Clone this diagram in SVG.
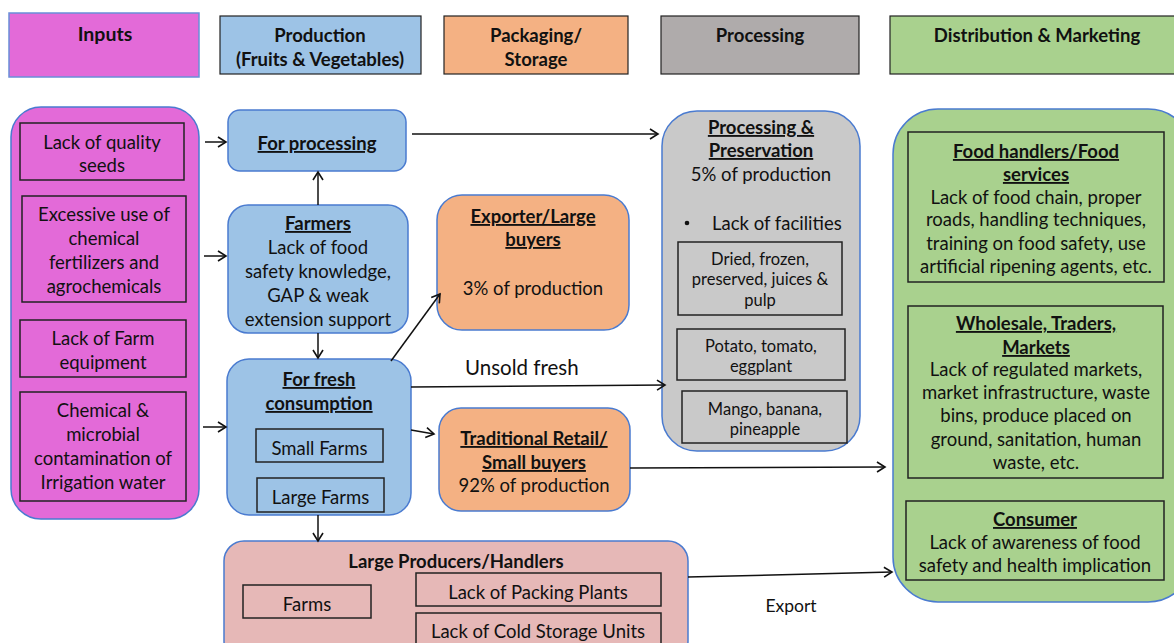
<svg xmlns="http://www.w3.org/2000/svg" width="1174" height="643" viewBox="0 0 1174 643">
<defs>
<style>
text{font-family:Lato,"Liberation Sans",sans-serif;font-size:18.5px;fill:#111;text-anchor:middle}
.b{font-weight:bold}
.u{font-weight:bold;text-decoration:underline}
.s{font-size:16.5px}
.hdr{stroke:#222;stroke-width:1.2}
.rb{stroke:#4a7bd0;stroke-width:1.5}
.ib{fill:none;stroke:#222;stroke-width:1.5}
.c{fill:none;stroke:#111;stroke-width:1.5}
</style>
<marker id="ah" markerWidth="12" markerHeight="12" refX="10" refY="6" orient="auto" markerUnits="userSpaceOnUse">
<path d="M2,1 L10,6 L2,11" fill="none" stroke="#111" stroke-width="1.6"/>
</marker>
</defs>

<g id="hdr-inputs"><rect x="9" y="13" width="190" height="64" fill="#E36AD8" stroke="#6a8fd8" stroke-width="1.5"/><text class="b" x="105" y="41" style="font-size:19.5px">Inputs</text></g>
<g id="hdr-production"><rect class="hdr" x="220" y="16" width="201" height="58" fill="#9DC3E6"/><text class="b" x="320" y="42">Production</text><text class="b" x="320" y="66">(Fruits &amp; Vegetables)</text></g>
<g id="hdr-packaging"><rect class="hdr" x="444" y="16" width="184" height="58" fill="#F4B183"/><text class="b" x="536" y="42">Packaging/</text><text class="b" x="536" y="66">Storage</text></g>
<g id="hdr-processing"><rect class="hdr" x="661" y="16" width="198" height="58" fill="#AFABAB"/><text class="b" x="760" y="42">Processing</text></g>
<g id="hdr-distribution"><rect class="hdr" x="890" y="16" width="290" height="58" fill="#A9D18E"/><text class="b" x="1037" y="42">Distribution &amp; Marketing</text></g>

<g id="inputs">
<rect class="rb" x="11" y="107" width="188" height="412" rx="30" fill="#E36AD8"/>
<rect class="ib" x="20" y="123" width="164" height="57"/>
<text x="102" y="149">Lack of quality</text><text x="102" y="172">seeds</text>
<rect class="ib" x="22" y="196" width="164" height="106"/>
<text x="104" y="221">Excessive use of</text><text x="104" y="245">chemical</text><text x="104" y="269">fertilizers and</text><text x="104" y="293">agrochemicals</text>
<rect class="ib" x="20" y="320" width="166" height="57"/>
<text x="103" y="345">Lack of Farm</text><text x="103" y="369">equipment</text>
<rect class="ib" x="20" y="392" width="166" height="109"/>
<text x="103" y="417">Chemical &amp;</text><text x="103" y="441">microbial</text><text x="103" y="465">contamination of</text><text x="103" y="489">Irrigation water</text>
</g>

<g id="for-processing"><rect class="rb" x="228" y="110" width="178" height="61" rx="12" fill="#9DC3E6"/><text class="u" x="317" y="150">For processing</text></g>

<g id="farmers"><rect class="rb" x="228" y="205" width="180" height="128" rx="20" fill="#9DC3E6"/>
<text class="u" x="318" y="230">Farmers</text><text x="318" y="254">Lack of food</text><text x="318" y="278">safety knowledge,</text><text x="318" y="302">GAP &amp; weak</text><text x="318" y="326">extension support</text></g>

<g id="fresh"><rect class="rb" x="227" y="359" width="184" height="156" rx="22" fill="#9DC3E6"/>
<text class="u" x="319" y="386">For fresh</text><text class="u" x="319" y="410">consumption</text>
<rect class="ib" x="256" y="429" width="127" height="33"/><text x="319.5" y="455">Small Farms</text>
<rect class="ib" x="257" y="478" width="127" height="34"/><text x="320.5" y="504">Large Farms</text></g>

<g id="exporter"><rect class="rb" x="437" y="195" width="192" height="135" rx="25" fill="#F4B183"/>
<text class="u" x="533" y="223">Exporter/Large</text><text class="u" x="533" y="246">buyers</text><text x="533" y="295">3% of production</text></g>

<g id="traditional"><rect class="rb" x="439" y="408" width="191" height="103" rx="22" fill="#F4B183"/>
<text class="u" x="534" y="445">Traditional Retail/</text><text class="u" x="534" y="469">Small buyers</text><text x="534" y="492">92% of production</text></g>

<g id="processing"><rect class="rb" x="662" y="111" width="198" height="340" rx="35" fill="#C9C9C9"/>
<text class="u" x="761" y="134">Processing &amp;</text><text class="u" x="761" y="157">Preservation</text><text x="761" y="181">5% of production</text>
<circle cx="687" cy="223" r="2.3" fill="#111"/><text x="712" y="230" style="text-anchor:start">Lack of facilities</text>
<rect class="ib" x="678" y="242" width="164" height="73"/>
<text class="s" x="760" y="265">Dried, frozen,</text><text class="s" x="760" y="285">preserved, juices &amp;</text><text class="s" x="760" y="306">pulp</text>
<rect class="ib" x="677" y="329" width="168" height="51"/>
<text class="s" x="761" y="352">Potato, tomato,</text><text class="s" x="761" y="372">eggplant</text>
<rect class="ib" x="682" y="391" width="165" height="52"/>
<text class="s" x="765" y="415">Mango, banana,</text><text class="s" x="765" y="435">pineapple</text></g>

<g id="distribution"><rect class="rb" x="893" y="109" width="300" height="493" rx="45" fill="#A9D18E"/>
<rect class="ib" x="908" y="132" width="256" height="150"/>
<text class="u" x="1036" y="158">Food handlers/Food</text><text class="u" x="1036" y="181">services</text>
<text x="1036" y="204">Lack of food chain, proper</text><text x="1036" y="226">roads, handling techniques,</text><text x="1036" y="250">training on food safety, use</text><text x="1036" y="273">artificial ripening agents, etc.</text>
<rect class="ib" x="908" y="306" width="255" height="172"/>
<text class="u" x="1036" y="330">Wholesale, Traders,</text><text class="u" x="1036" y="354">Markets</text>
<text x="1036" y="376">Lack of regulated markets,</text><text x="1036" y="399">market infrastructure, waste</text><text x="1036" y="422">bins, produce placed on</text><text x="1036" y="446">ground, sanitation, human</text><text x="1036" y="469">waste, etc.</text>
<rect class="ib" x="906" y="501" width="258" height="79"/>
<text class="u" x="1035" y="526">Consumer</text><text x="1035" y="549">Lack of awareness of food</text><text x="1035" y="572">safety and health implication</text></g>

<g id="large-producers"><rect class="rb" x="224" y="541" width="464" height="120" rx="20" fill="#E6B8B7"/>
<text class="b" x="456" y="568">Large Producers/Handlers</text>
<rect class="ib" x="243" y="585" width="128" height="33"/><text x="307" y="611">Farms</text>
<rect class="ib" x="416" y="573" width="245" height="33"/><text x="538" y="599">Lack of Packing Plants</text>
<rect class="ib" x="416" y="613" width="245" height="40"/><text x="538" y="638">Lack of Cold Storage Units</text></g>

<g id="labels">
<text x="465" y="375" style="text-anchor:start;font-size:20.5px">Unsold fresh</text>
<text x="791" y="612" style="font-size:17.5px">Export</text>
</g>

<g id="connectors">
<line class="c" x1="205" y1="142" x2="226" y2="142" marker-end="url(#ah)"/>
<line class="c" x1="204" y1="256" x2="226" y2="256" marker-end="url(#ah)"/>
<line class="c" x1="203" y1="427" x2="226" y2="427" marker-end="url(#ah)"/>
<line class="c" x1="318" y1="205" x2="318" y2="172" marker-end="url(#ah)"/>
<line class="c" x1="318" y1="333" x2="318" y2="358" marker-end="url(#ah)"/>
<line class="c" x1="412" y1="134" x2="658" y2="134" marker-end="url(#ah)"/>
<line class="c" x1="391" y1="361" x2="440" y2="294" marker-end="url(#ah)"/>
<line class="c" x1="411" y1="387" x2="665" y2="385" marker-end="url(#ah)"/>
<line class="c" x1="411" y1="430" x2="434" y2="434" marker-end="url(#ah)"/>
<line class="c" x1="630" y1="468" x2="885" y2="467" marker-end="url(#ah)"/>
<line class="c" x1="318" y1="515" x2="318" y2="541" marker-end="url(#ah)"/>
<line class="c" x1="688" y1="577" x2="892" y2="572" marker-end="url(#ah)"/>
</g>
</svg>
